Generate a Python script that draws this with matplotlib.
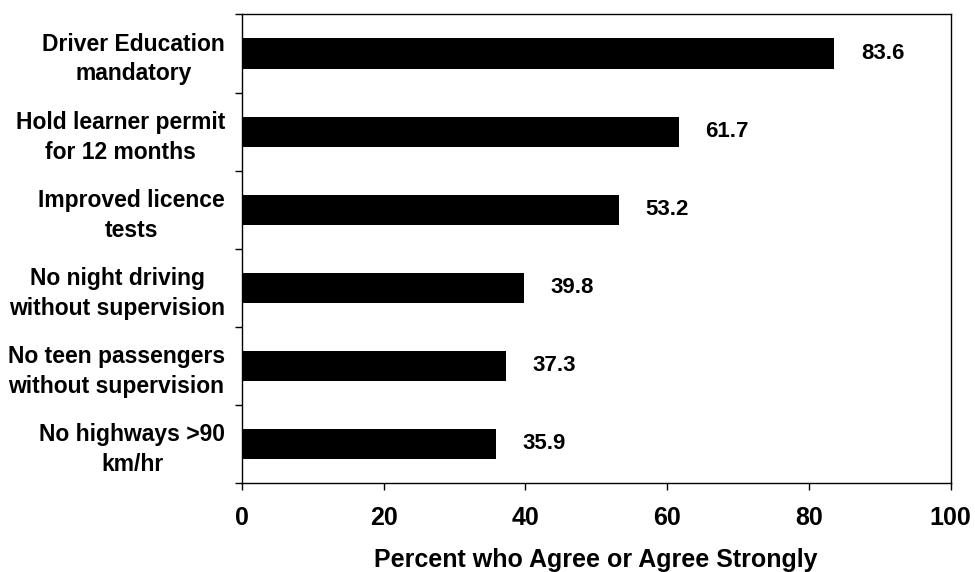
import matplotlib
matplotlib.use("Agg")
import matplotlib.pyplot as plt
import numpy as np

categories = [
    "Driver Education\nmandatory",
    "Hold learner permit\nfor 12 months",
    "Improved licence\ntests",
    "No night driving\nwithout supervision",
    "No teen passengers\nwithout supervision",
    "No highways >90\nkm/hr",
]
values = [83.6, 61.7, 53.2, 39.8, 37.3, 35.9]
xticks = [0, 20, 40, 60, 80, 100]
xlabel = "Percent who Agree or Agree Strongly"

plt.rcParams["font.family"] = ["Liberation Sans", "DejaVu Sans"]
plt.rcParams["font.weight"] = "bold"

fig = plt.figure(figsize=(9.75, 5.72), dpi=100)
ax = fig.add_axes([0.2479, 0.1561, 0.7272, 0.8186])

n = len(categories)
pos = np.arange(n)
ax.barh(pos, values, height=0.385, color="black", zorder=2)

ax.set_xlim(0, 100)
ax.set_ylim(n - 0.5, -0.5)

# category labels at bar centres, ticks at category boundaries
ax.set_yticks(pos)
ax.set_yticklabels(categories, fontsize=16.5, fontweight="bold", ha="right",
                   multialignment="center", linespacing=1.36)
ax.tick_params(axis="y", which="major", length=0, pad=12)
ax.set_yticks(np.arange(n + 1) - 0.5, minor=True)
ax.tick_params(axis="y", which="minor", length=5, width=1, direction="out")

ax.set_xticks(xticks)
ax.set_xticklabels([str(t) for t in xticks], fontsize=18, fontweight="bold")
ax.tick_params(axis="x", length=5, width=1, direction="out", pad=12)
ax.set_xlabel(xlabel, fontsize=18, fontweight="bold", labelpad=13)

for s in ax.spines.values():
    s.set_linewidth(1)
    s.set_color("black")

for p, v in zip(pos, values):
    ax.annotate(f"{v:.1f}", xy=(v, p), xytext=(19, 0), textcoords="offset points",
                va="center", ha="left", fontsize=16, fontweight="bold")

fig.savefig("out.png", dpi=100, facecolor="white")
